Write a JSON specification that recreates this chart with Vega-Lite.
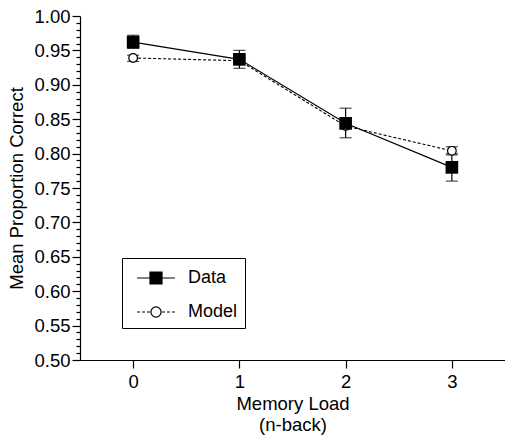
{
  "$schema": "https://vega.github.io/schema/vega-lite/v6.json",
  "width": 425,
  "height": 344,
  "autosize": {"type": "none"},
  "padding": {"left": 80, "top": 16, "right": 0, "bottom": 77},
  "background": "white",
  "config": {
    "view": {"stroke": null},
    "font": "Liberation Sans",
    "axis": {
      "domainColor": "black",
      "tickColor": "black",
      "labelColor": "black",
      "titleColor": "black",
      "grid": false,
      "labelFontSize": 18.5,
      "titleFontSize": 18.5,
      "titleFontWeight": "normal",
      "labelFont": "Liberation Sans",
      "titleFont": "Liberation Sans",
      "domainWidth": 1.2,
      "tickWidth": 1.2,
      "labelOverlap": false
    }
  },
  "resolve": {"scale": {"y": "independent"}, "axis": {"y": "independent"}},
  "data": {
    "values": [
      {"series": "Data", "load": 0, "mean": 0.962, "lo": 0.953, "hi": 0.972},
      {"series": "Data", "load": 1, "mean": 0.937, "lo": 0.924, "hi": 0.950},
      {"series": "Data", "load": 2, "mean": 0.844, "lo": 0.823, "hi": 0.866},
      {"series": "Data", "load": 3, "mean": 0.780, "lo": 0.760, "hi": 0.800},
      {"series": "Model", "load": 0, "mean": 0.939, "lo": 0.934, "hi": 0.943},
      {"series": "Model", "load": 1, "mean": 0.935, "lo": 0.931, "hi": 0.939},
      {"series": "Model", "load": 2, "mean": 0.840, "lo": 0.836, "hi": 0.844},
      {"series": "Model", "load": 3, "mean": 0.804, "lo": 0.798, "hi": 0.810}
    ]
  },
  "encoding": {
    "x": {
      "field": "load",
      "type": "quantitative",
      "scale": {"domain": [-0.5, 3.5], "nice": false, "zero": false},
      "axis": {
        "values": [0, 1, 2, 3],
        "format": "d",
        "title": ["Memory Load", "(n-back)"],
        "tickSize": 8,
        "labelPadding": 4,
        "titlePadding": 4,
        "titleLineHeight": 21
      }
    }
  },
  "layer": [
    {
      "transform": [{"filter": "datum.series === 'Model'"}],
      "mark": {"type": "line", "strokeWidth": 1.1, "strokeDash": [3, 2], "color": "black"},
      "encoding": {
        "y": {
          "field": "mean",
          "type": "quantitative",
          "scale": {"domain": [0.5, 1.0], "nice": false, "zero": false},
          "axis": {
            "orient": "left",
            "values": [0.51,0.52,0.53,0.54,0.56,0.57,0.58,0.59,0.61,0.62,0.63,0.64,0.66,0.67,0.68,0.69,0.71,0.72,0.73,0.74,0.76,0.77,0.78,0.79,0.81,0.82,0.83,0.84,0.86,0.87,0.88,0.89,0.91,0.92,0.93,0.94,0.96,0.97,0.98,0.99],
            "labels": false,
            "domain": false,
            "title": null,
            "tickSize": 4
          }
        }
      }
    },
    {
      "transform": [{"filter": "datum.series === 'Data'"}],
      "mark": {"type": "line", "strokeWidth": 1.2},
      "encoding": {
        "y": {
          "field": "mean",
          "type": "quantitative",
          "scale": {"domain": [0.5, 1.0], "nice": false, "zero": false},
          "axis": {
            "orient": "left",
            "values": [0.5, 0.55, 0.6, 0.65, 0.7, 0.75, 0.8, 0.85, 0.9, 0.95, 1.0],
            "format": ".2f",
            "tickSize": 8,
            "labelPadding": 2,
            "title": "Mean Proportion Correct",
            "titlePadding": 7
          }
        },
        "color": {
          "field": "series",
          "type": "nominal",
          "scale": {"domain": ["Data", "Model"], "range": ["black", "black"]},
          "legend": {
            "orient": "none",
            "legendX": 42,
            "legendY": 242,
            "title": null,
            "strokeColor": "black",
            "fillColor": "white",
            "padding": 7,
            "symbolSize": 576,
            "rowPadding": 12,
            "symbolOffset": 14,
            "labelOffset": 19,
            "labelFontSize": 18,
            "labelFont": "Liberation Sans",
            "labelColor": "black",
            "labelExpr": "datum.label + '\u00a0\u00a0\u00a0\u00a0'",
            "encode": {
              "symbols": {
                "update": {
                  "shape": {"signal": "datum.value === 'Data' ? 'M-1.58,0H1.58M-0.5,-0.5H0.5V0.5H-0.5Z' : 'M-1.58,0H-1.33M-1.17,0H-0.92M-0.75,0H-0.5M0.5,0H0.75M0.92,0H1.17M1.33,0H1.58M-0.42,0A0.42,0.42,0,1,1,0.42,0A0.42,0.42,0,1,1,-0.42,0Z'"},
                  "fill": {"signal": "datum.value === 'Data' ? 'black' : 'white'"},
                  "stroke": {"value": "black"},
                  "strokeWidth": {"value": 1.2},
                  "opacity": {"value": 1},
                  "fillOpacity": {"value": 1}
                }
              }
            }
          }
        }
      }
    },
    {
      "mark": {"type": "rule", "color": "black", "strokeWidth": 1.2},
      "encoding": {
        "y": {"field": "lo", "type": "quantitative", "scale": {"domain": [0.5, 1.0], "nice": false, "zero": false}, "axis": null},
        "y2": {"field": "hi"}
      }
    },
    {
      "mark": {"type": "tick", "color": "black", "orient": "horizontal", "size": 12, "thickness": 1.2},
      "encoding": {"y": {"field": "lo", "type": "quantitative", "scale": {"domain": [0.5, 1.0], "nice": false, "zero": false}, "axis": null}}
    },
    {
      "mark": {"type": "tick", "color": "black", "orient": "horizontal", "size": 12, "thickness": 1.2},
      "encoding": {"y": {"field": "hi", "type": "quantitative", "scale": {"domain": [0.5, 1.0], "nice": false, "zero": false}, "axis": null}}
    },
    {
      "transform": [{"filter": "datum.series === 'Model'"}],
      "mark": {"type": "point", "shape": "circle", "filled": false, "fill": "white", "fillOpacity": 1, "stroke": "black", "strokeWidth": 1.2, "opacity": 1, "size": 75},
      "encoding": {"y": {"field": "mean", "type": "quantitative", "scale": {"domain": [0.5, 1.0], "nice": false, "zero": false}, "axis": null}}
    },
    {
      "transform": [{"filter": "datum.series === 'Data'"}],
      "mark": {"type": "point", "shape": "square", "filled": true, "color": "black", "opacity": 1, "size": 160},
      "encoding": {"y": {"field": "mean", "type": "quantitative", "scale": {"domain": [0.5, 1.0], "nice": false, "zero": false}, "axis": null}}
    }
  ]
}
